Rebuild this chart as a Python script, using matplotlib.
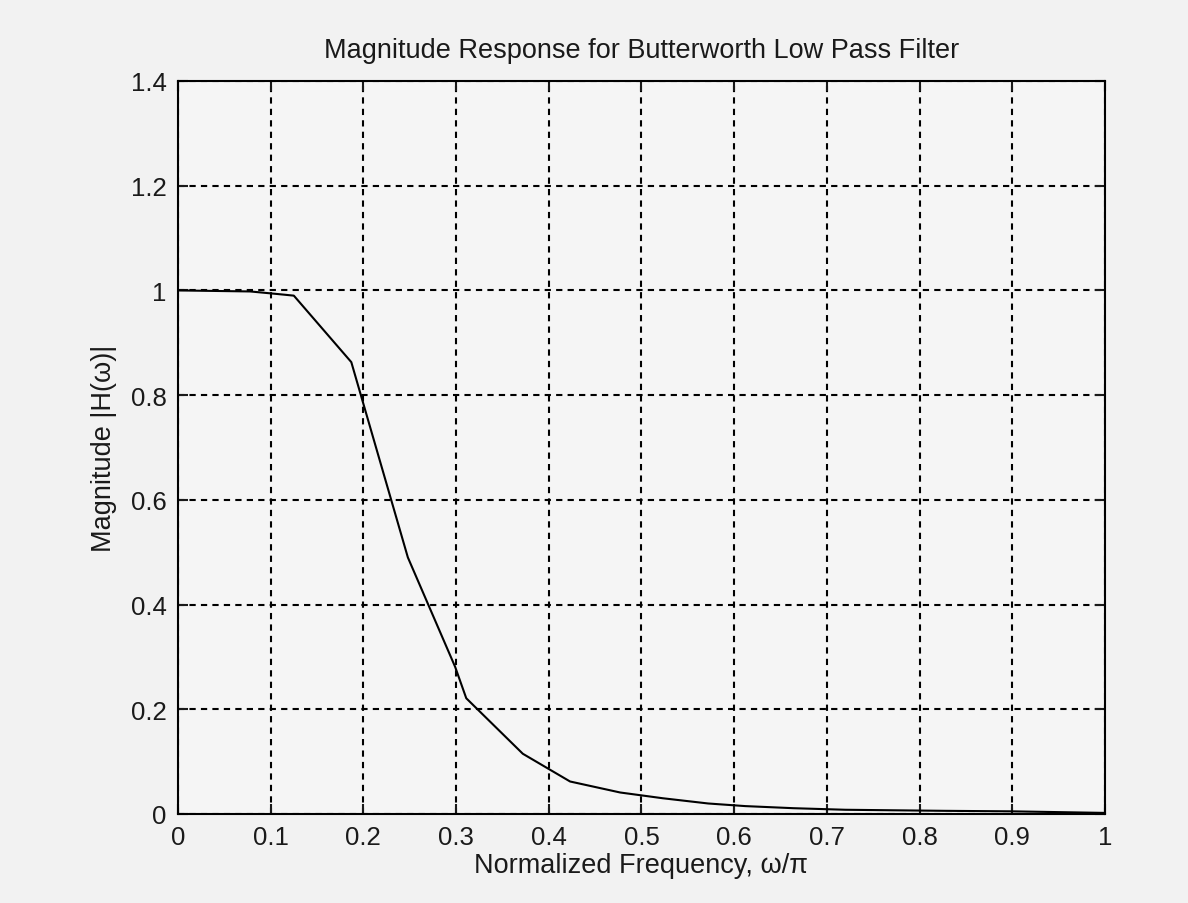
import matplotlib.pyplot as plt

# values
freq = [0, 0.078, 0.108, 0.125, 0.187, 0.248, 0.299, 0.311, 0.372, 0.423,
        0.477, 0.523, 0.572, 0.612, 0.664, 0.72, 0.825, 0.9, 1.0]
mag = [1.0, 0.998, 0.993, 0.99, 0.863, 0.49, 0.281, 0.221, 0.115, 0.062,
       0.041, 0.03, 0.02, 0.015, 0.011, 0.008, 0.006, 0.005, 0.002]
x_ticks = [0, 0.1, 0.2, 0.3, 0.4, 0.5, 0.6, 0.7, 0.8, 0.9, 1]
x_tick_labels = ["0", "0.1", "0.2", "0.3", "0.4", "0.5", "0.6", "0.7", "0.8", "0.9", "1"]
y_ticks = [0, 0.2, 0.4, 0.6, 0.8, 1, 1.2, 1.4]
y_tick_labels = ["0", "0.2", "0.4", "0.6", "0.8", "1", "1.2", "1.4"]

plt.rcParams['font.family'] = ['Liberation Sans', 'DejaVu Sans']

fig = plt.figure(figsize=(11.88, 9.04), dpi=100, facecolor='#f2f2f2')
ax = fig.add_axes([0.1498, 0.0985, 0.7803, 0.8108])
ax.set_facecolor('#f5f5f5')

ax.plot(freq, mag, color='black', linewidth=1.5)

ax.set_xlim(0, 1)
ax.set_ylim(0, 1.4)
ax.set_xticks(x_ticks)
ax.set_xticklabels(x_tick_labels)
ax.set_yticks(y_ticks)
ax.set_yticklabels(y_tick_labels)
ax.tick_params(direction='in', length=7, width=1.5, top=True, right=True,
               labelsize=18.5, pad=8, colors='#1a1a1a')
ax.grid(True, color='black', linestyle=(0, (3, 2.5)), linewidth=1.5)
for s in ax.spines.values():
    s.set_linewidth(1.5)

ax.set_title("Magnitude Response for Butterworth Low Pass Filter",
             fontsize=19.5, pad=17, color='#1a1a1a')
ax.set_xlabel("Normalized Frequency, \u03c9/\u03c0", fontsize=19.5, labelpad=2,
              color='#1a1a1a')
ax.set_ylabel("Magnitude |H(\u03c9)|", fontsize=19.5, labelpad=10, color='#1a1a1a')

fig.savefig("out.png", dpi=100, facecolor=fig.get_facecolor())
